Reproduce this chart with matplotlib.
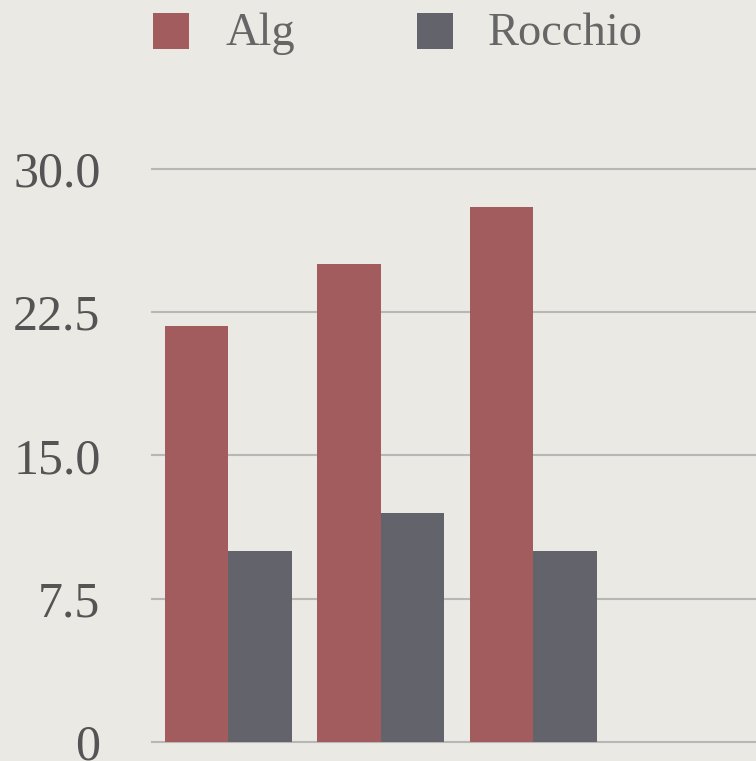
import matplotlib
matplotlib.use("Agg")
import matplotlib.pyplot as plt
from matplotlib.patches import Rectangle
import numpy as np

# Data
categories = ["1", "2", "3"]
alg_values = [21.8, 25.0, 28.0]
rocchio_values = [10.0, 12.0, 10.0]
series_names = ["Alg", "Rocchio"]
y_ticks = [0, 7.5, 15.0, 22.5, 30.0]
y_tick_labels = ["0", "7.5", "15.0", "22.5", "30.0"]

W, H, DPI = 756, 761, 100
bg = "#EAE9E4"
red = "#A35C5D"
gray = "#63646B"
grid_c = "#B7B7B5"
text_c = "#545454"
font = "Liberation Serif"

fig = plt.figure(figsize=(W / DPI, H / DPI), dpi=DPI, facecolor=bg)

# axes in pixel coordinates (the plotting area continues past the right edge)
left_px, right_px = 152, 762
top_px, bottom_px = 169, 741.7
ax = fig.add_axes([left_px / W, (H - bottom_px) / H,
                   (right_px - left_px) / W, (bottom_px - top_px) / H])
ax.set_facecolor(bg)
ax.patch.set_alpha(0)

x = np.arange(len(categories))
bw = 0.415
ax.bar(x - bw / 2, alg_values, width=bw, color=red, zorder=3, linewidth=0)
ax.bar(x + bw / 2, rocchio_values, width=bw, color=gray, zorder=3, linewidth=0)

ax.set_xlim(-0.5, 3.5)
ax.set_ylim(0, 30)
ax.set_yticks(y_ticks)
ax.set_yticklabels(y_tick_labels, fontfamily=font, fontsize=36, color=text_c)
for yv in y_ticks:
    ax.axhline(yv, color=grid_c, lw=1.5, zorder=1, clip_on=False)
ax.tick_params(axis="y", length=0, pad=37)
ax.tick_params(axis="x", length=0, labelbottom=False)
for s in ax.spines.values():
    s.set_visible(False)

# legend
def px_rect(x0, y0, size, color):
    fig.patches.append(Rectangle((x0 / W, (H - y0 - size) / H), size / W, size / H,
                                 transform=fig.transFigure, color=color, lw=0))

px_rect(153, 13, 36, red)
px_rect(417, 13, 36, gray)
fig.text(225 / W, (H - 45) / H, series_names[0], fontfamily=font, fontsize=33.5,
         color="#666666", va="baseline", ha="left")
fig.text(488 / W, (H - 45) / H, series_names[1], fontfamily=font, fontsize=33.5,
         color="#666666", va="baseline", ha="left")

fig.savefig("out.png", dpi=DPI, facecolor=bg)
